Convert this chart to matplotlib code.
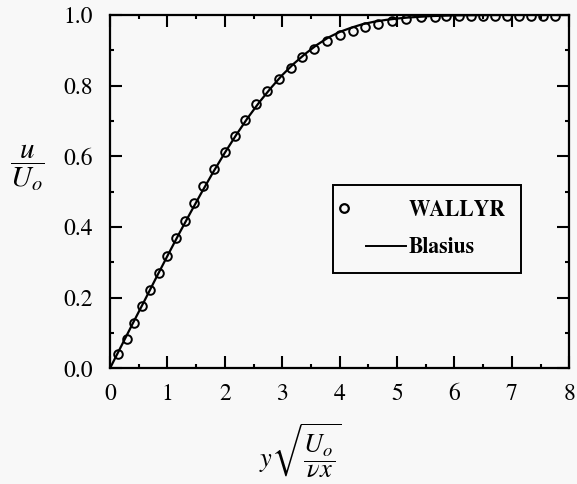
import numpy as np
import matplotlib
matplotlib.use("Agg")
import matplotlib.pyplot as plt
from matplotlib.lines import Line2D
from matplotlib.legend_handler import HandlerLine2D

plt.rcParams["font.family"] = ["STIXGeneral", "Liberation Serif", "DejaVu Serif"]
plt.rcParams["mathtext.fontset"] = "stix"

# WALLYR solution points (similarity variable, u/Uo)
wallyr_eta = [0.144, 0.289, 0.415, 0.559, 0.704, 0.848, 0.991, 1.142, 1.298, 1.458,
              1.626, 1.804, 1.995, 2.175, 2.348, 2.538, 2.739, 2.941, 3.144, 3.344,
              3.547, 3.777, 4.009, 4.239, 4.441, 4.671, 4.913, 5.161, 5.410, 5.652,
              5.86, 6.07, 6.28, 6.49, 6.70, 6.91, 7.12, 7.33, 7.54, 7.75]
wallyr_u = [0.041, 0.083, 0.128, 0.175, 0.223, 0.270, 0.318, 0.368, 0.418, 0.467,
            0.516, 0.565, 0.613, 0.658, 0.703, 0.748, 0.784, 0.818, 0.851, 0.881,
            0.905, 0.927, 0.943, 0.955, 0.967, 0.974, 0.984, 0.989, 0.993, 0.995,
            0.996, 0.996, 0.996, 0.996, 0.996, 0.996, 0.996, 0.996, 0.996, 0.996]

# Blasius profile u/Uo
blasius_eta = [0.0, 0.2, 0.4, 0.6, 0.8, 1.0, 1.2, 1.4, 1.6, 1.8, 2.0, 2.2, 2.4, 2.6,
               2.8, 3.0, 3.2, 3.4, 3.6, 3.8, 4.0, 4.2, 4.4, 4.6, 4.8, 5.0, 5.2, 5.4,
               5.6, 5.8, 6.0, 6.4, 6.8, 8.0]
blasius_u = [0.0, 0.064, 0.128, 0.191, 0.255, 0.318, 0.380, 0.440, 0.499, 0.556,
             0.610, 0.661, 0.709, 0.753, 0.793, 0.830, 0.862, 0.890, 0.915, 0.936,
             0.952, 0.964, 0.974, 0.981, 0.986, 0.990, 0.993, 0.995, 0.997, 0.998,
             0.999, 0.9995, 1.0, 1.0]

x_ticks = [0, 1, 2, 3, 4, 5, 6, 7, 8]
y_ticks = [0.0, 0.2, 0.4, 0.6, 0.8, 1.0]
y_ticklabels = ["0.0", "0.2", "0.4", "0.6", "0.8", "1.0"]

bg = "#f8f8f8"
fig = plt.figure(figsize=(5.77, 4.84), dpi=100, facecolor=bg)
ax = fig.add_axes([0.1906, 0.239, 0.7961, 0.730])
ax.set_facecolor(bg)

ax.plot(blasius_eta, blasius_u, color="black", lw=1.6, zorder=2)
ax.plot(wallyr_eta, wallyr_u, ls="none", marker="o", ms=6.2, mfc="none",
        mec="black", mew=1.4, zorder=3)

ax.set_xlim(0, 8)
ax.set_ylim(0, 1.0)
ax.set_xticks(x_ticks)
ax.set_xticklabels([str(v) for v in x_ticks])
ax.set_yticks(y_ticks)
ax.set_yticklabels(y_ticklabels)
ax.set_xticks(np.arange(0.5, 8, 1.0), minor=True)
ax.set_yticks(np.arange(0.1, 1.0, 0.2), minor=True)

ax.tick_params(which="both", direction="in", top=True, right=True, colors="black")
ax.tick_params(which="major", length=8.5, width=1.5, labelsize=17)
ax.tick_params(axis="x", which="major", pad=11)
ax.tick_params(axis="y", which="major", pad=12)
ax.tick_params(which="minor", length=3, width=1.5)
for s in ax.spines.values():
    s.set_linewidth(1.6)


class LegendHandle(HandlerLine2D):
    """Line/marker legend handle with adjustable line start and marker spot."""

    def __init__(self, line_start=0.0, marker_at=0.5, **kw):
        super().__init__(**kw)
        self.line_start = line_start
        self.marker_at = marker_at

    def get_xdata(self, legend, xdescent, ydescent, width, height, fontsize):
        if self.marker_at is not None:
            # single-point handles put the marker at the middle of xdata
            m = -xdescent + self.marker_at * width
            xdata = [-xdescent, 2 * m + xdescent]
            return xdata, [m]
        xdata = [-xdescent + self.line_start * width, -xdescent + width]
        return xdata, [0.5 * (xdata[0] + xdata[1])]


h_w = Line2D([], [], ls="none", marker="o", ms=6.2, mfc="none", mec="black", mew=1.6)
h_b = Line2D([], [], color="black", lw=1.4)
leg = ax.legend([h_w, h_b], ["WALLYR", "Blasius"],
                handler_map={h_w: LegendHandle(marker_at=-0.07),
                             h_b: LegendHandle(line_start=0.31, marker_at=None)},
                loc="upper left", bbox_to_anchor=(0.486, 0.519),
                prop={"weight": "bold", "size": 15.5},
                handlelength=2.7, handletextpad=0.12, labelspacing=0.75,
                borderpad=0.7, borderaxespad=0.0,
                frameon=True, fancybox=False, framealpha=1.0,
                facecolor=bg, edgecolor="black")
leg.get_frame().set_linewidth(1.4)

fig.text(27 / 577, 1 - 168 / 484, r"$\dfrac{u}{U_o}$", fontsize=21,
         ha="center", va="center")
fig.text(300 / 577, 1 - 451 / 484, r"$y\sqrt{\dfrac{U_o}{\nu x}}$", fontsize=19,
         ha="center", va="center")

fig.savefig("out.png", dpi=100, facecolor=bg)
